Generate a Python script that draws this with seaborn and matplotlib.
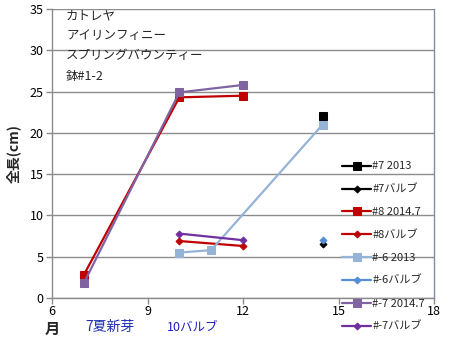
import matplotlib
matplotlib.use("Agg")
import matplotlib.pyplot as plt
import seaborn as sns
import pandas as pd

sns.set_theme(style="white")
plt.rcParams['font.family'] = ['Noto Sans CJK JP', 'DejaVu Sans']

# data
labels = ["#7 2013", "#7バルブ", "#8 2014.7", "#8バルブ",
          "#-6 2013", "#-6バルブ", "#-7 2014.7", "#-7バルブ"]
x_7_2013 = [14.5]
y_7_2013 = [22.0]
x_7_bulb = [14.5]
y_7_bulb = [6.5]
x_8_2014 = [7, 10, 12]
y_8_2014 = [2.8, 24.3, 24.5]
x_8_bulb = [10, 12]
y_8_bulb = [6.9, 6.3]
x_m6_2013 = [10, 11, 14.5]
y_m6_2013 = [5.5, 5.8, 21.0]
x_m6_bulb = [14.5]
y_m6_bulb = [7.0]
x_m7_2014 = [7, 10, 12]
y_m7_2014 = [1.8, 24.9, 25.8]
x_m7_bulb = [10, 12]
y_m7_bulb = [7.8, 7.0]
x_ticks = [6, 9, 12, 15, 18]
y_ticks = [0, 5, 10, 15, 20, 25, 30, 35]
title_lines = ["カトレヤ", "アイリンフィニー", "スプリングバウンティー", "鉢#1-2"]

series = [
    (x_7_2013, y_7_2013, "#000000", "s", 6),
    (x_7_bulb, y_7_bulb, "#000000", "D", 3.5),
    (x_8_2014, y_8_2014, "#C00000", "s", 6),
    (x_8_bulb, y_8_bulb, "#C00000", "D", 3.5),
    (x_m6_2013, y_m6_2013, "#95B3D7", "s", 6),
    (x_m6_bulb, y_m6_bulb, "#558ED5", "D", 3.5),
    (x_m7_2014, y_m7_2014, "#8064A2", "s", 6),
    (x_m7_bulb, y_m7_bulb, "#7030A0", "D", 3.5),
]

fig = plt.figure(figsize=(4.5, 3.41), dpi=100)
ax = fig.add_axes([52/450, 1-298/341, (434-52)/450, (298-9)/341])

for (xs, ys, c, m, ms), lab in zip(series, labels):
    df = pd.DataFrame({"x": xs, "y": ys})
    sns.lineplot(data=df, x="x", y="y", ax=ax, color=c, marker=m,
                 markersize=ms, markeredgecolor=c, linewidth=1.6,
                 label=lab, sort=False, estimator=None)

ax.set_xlim(6, 18)
ax.set_ylim(0, 35)
ax.set_xticks(x_ticks)
ax.set_yticks(y_ticks)
ax.set_xticklabels([str(v) for v in x_ticks], fontsize=9)
ax.set_yticklabels([str(v) for v in y_ticks], fontsize=9)
ax.grid(axis='y', color='#8C8C8C', linewidth=1)
ax.set_axisbelow(True)
ax.spines['top'].set_visible(False)
ax.spines['left'].set_color('#8C8C8C')
ax.spines['bottom'].set_color('#8C8C8C')
ax.spines['right'].set_color('#7F8FAA')
for s in ['left', 'bottom', 'right']:
    ax.spines[s].set_linewidth(1)
ax.tick_params(axis='both', direction='out', length=4, width=1,
               color='#8C8C8C', colors='#000000', pad=2, bottom=True, left=True)
ax.tick_params(axis='x', pad=1)
ax.set_xlabel("")
ax.set_ylabel("全長(cm)", fontsize=10, fontweight='bold', labelpad=6)

fig.text(66/450, 1-9/341, "\n".join(title_lines), fontsize=9,
         va='top', ha='left', linespacing=1.72)
fig.text(45/450, 1-329/341, "月", fontsize=11, fontweight='bold', va='center')
fig.text(85/450, 1-327/341, "7夏新芽", fontsize=10, color='#1F2FB0', va='center')
fig.text(167/450, 1-327/341, "10バルブ", fontsize=9, color='#1F1FC0', va='center')

leg = ax.legend(loc='upper left', bbox_to_anchor=(338/450, 1-157/341),
                bbox_transform=fig.transFigure, frameon=False, fontsize=8,
                handlelength=2.6, handletextpad=0.1, labelspacing=1.16,
                borderaxespad=0)

fig.savefig("out.png", dpi=100)
